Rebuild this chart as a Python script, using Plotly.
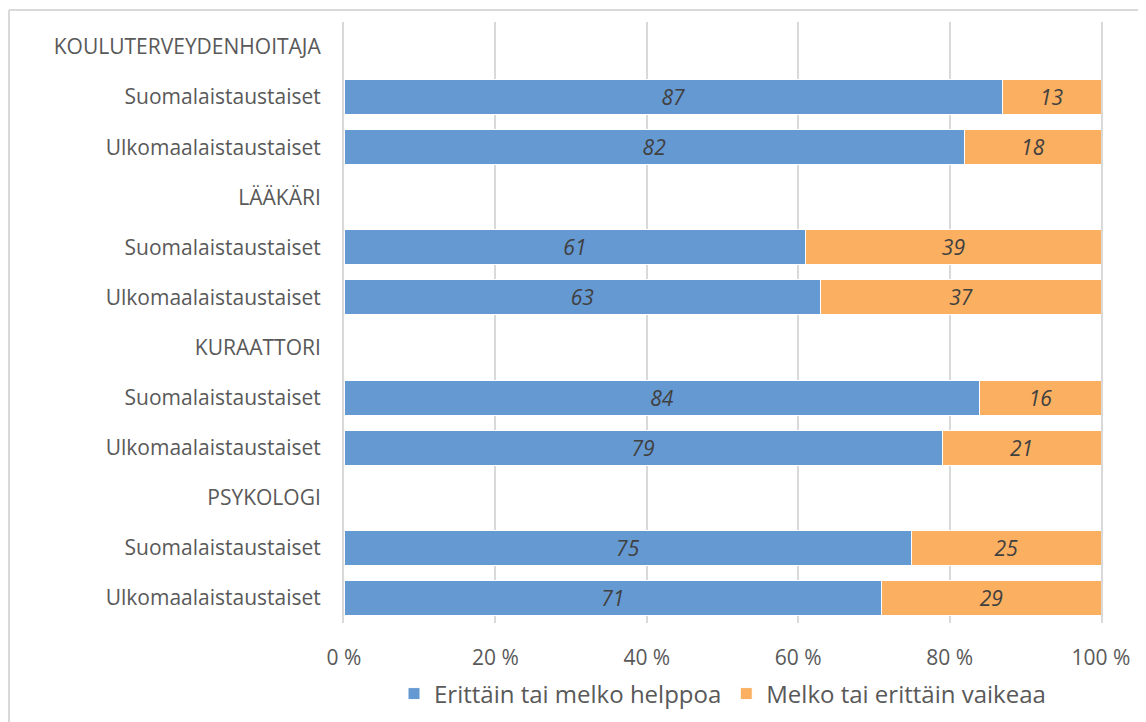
import plotly.graph_objects as go

row_labels = ["KOULUTERVEYDENHOITAJA", "Suomalaistaustaiset", "Ulkomaalaistaustaiset",
              "LÄÄKÄRI", "Suomalaistaustaiset", "Ulkomaalaistaustaiset",
              "KURAATTORI", "Suomalaistaustaiset", "Ulkomaalaistaustaiset",
              "PSYKOLOGI", "Suomalaistaustaiset", "Ulkomaalaistaustaiset"]
easy = [None, 87, 82, None, 61, 63, None, 84, 79, None, 75, 71]
hard = [None, 13, 18, None, 39, 37, None, 16, 21, None, 25, 29]
series_names = ["Erittäin tai melko helppoa", "Melko tai erittäin vaikeaa"]
x_ticks = [0, 20, 40, 60, 80, 100]
x_ticktext = ["0 %", "20 %", "40 %", "60 %", "80 %", "100 %"]

positions = list(range(len(row_labels)))
FONT = "Open Sans"
colors = ["#6599D2", "#FAAF61"]

fig = go.Figure()
for name, vals, col in zip(series_names, [easy, hard], colors):
    fig.add_trace(go.Bar(
        y=positions, x=vals, name=name, orientation="h",
        marker=dict(color=col, line=dict(color="white", width=1)),
        text=[("" if v is None else str(v)) for v in vals],
        textposition="inside", insidetextanchor="middle",
        textfont=dict(family=FONT, size=21, color="#404040", style="italic"),
        textangle=0,
        hoverinfo="skip",
    ))

PH = 601  # plot height in px
fig.update_layout(
    barmode="stack", bargap=0.3,
    width=1138, height=714,
    margin=dict(l=336, r=45, t=14, b=99, autoexpand=False),
    paper_bgcolor="white", plot_bgcolor="white",
    font=dict(family=FONT, size=18, color="#595959"),
    showlegend=True,
    legend=dict(orientation="h", x=0.5, xanchor="center",
                y=-(686 - 615) / PH, yanchor="middle",
                font=dict(family=FONT, size=24, color="#595959"),
                itemwidth=30, traceorder="normal"),
    xaxis=dict(range=[0, 100], tickvals=x_ticks, ticktext=x_ticktext, automargin=False,
               showgrid=True, gridcolor="#D9D9D9", gridwidth=2,
               zeroline=False, showline=False, ticks="",
               ticklabelstandoff=20, tickfont=dict(size=21, color="#595959")),
    yaxis=dict(range=[len(row_labels) - 0.5, -0.5], tickvals=positions, ticktext=row_labels,
               automargin=False,
               showgrid=False, zeroline=False, showline=True, mirror=True,
               linecolor="#D9D9D9", linewidth=2, ticks="",
               ticklabelstandoff=17, tickfont=dict(size=21, color="#595959")),
    shapes=[
        dict(type="line", xref="paper", yref="paper", x0=-335 / 757, x1=1.2,
             y0=1 + 12 / PH, y1=1 + 12 / PH, line=dict(color="#D9D9D9", width=2),
             layer="below"),
        dict(type="line", xref="paper", yref="paper", x0=-335 / 757, x1=-335 / 757,
             y0=-0.3, y1=1 + 12 / PH, line=dict(color="#D9D9D9", width=2),
             layer="below"),
    ],
)

fig.write_html("out.html")
